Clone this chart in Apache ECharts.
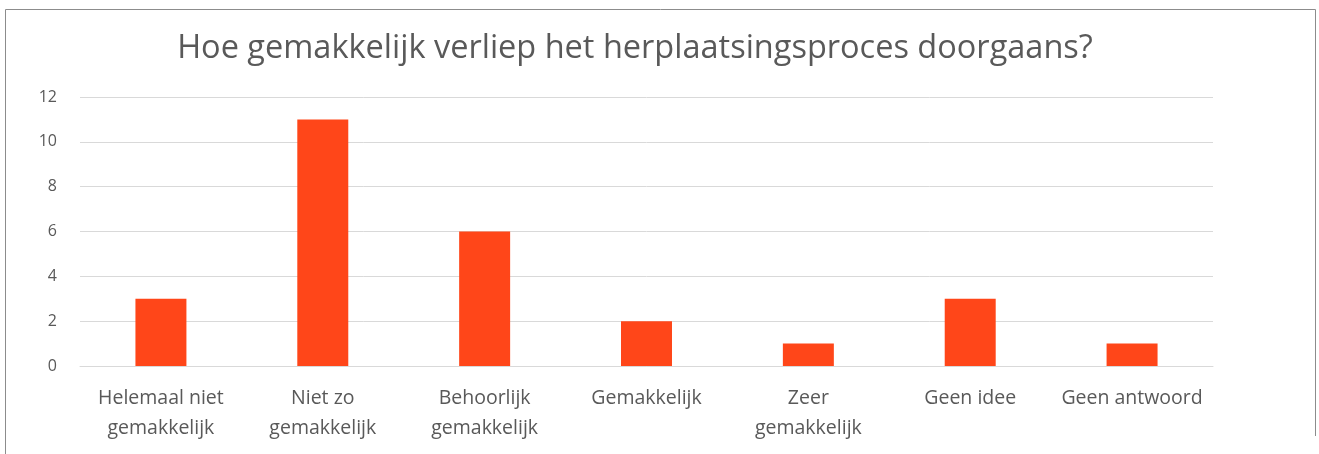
<!DOCTYPE html>
<html>
<head>
<meta charset="utf-8">
<script src="https://cdn.jsdelivr.net/npm/echarts@6/dist/echarts.min.js"></script>
<style>
html, body { margin: 0; padding: 0; background: #fff; }
#chart { width: 1319px; height: 454px; }
</style>
</head>
<body>
<div id="chart"></div>
<script>
var categories = ['Helemaal niet\ngemakkelijk', 'Niet zo\ngemakkelijk', 'Behoorlijk\ngemakkelijk', 'Gemakkelijk', 'Zeer\ngemakkelijk', 'Geen idee', 'Geen antwoord'];
var counts = [3, 11, 6, 2, 1, 3, 1];
var chartTitle = 'Hoe gemakkelijk verliep het herplaatsingsproces doorgaans?';

var myChart = echarts.init(document.getElementById('chart'));
var fontName = '"Open Sans", Lato, sans-serif';
var option = {
	animation: false,
	title: {
		text: chartTitle,
		left: 630,
		top: 44,
		textAlign: 'center',
		textVerticalAlign: 'middle',
		textStyle: {
			fontFamily: fontName,
			fontSize: 32.5,
			fontWeight: 'normal',
			color: '#595959'
		}
	},
	grid: {
		left: 80,
		right: 106,
		top: 97,
		bottom: 88
	},
	graphic: [
		// frame around the chart
		{ type: 'line', shape: { x1: 5.5, y1: 9.5, x2: 1315.5, y2: 9.5 }, style: { stroke: '#8c8c8c', lineWidth: 1 } },
		{ type: 'line', shape: { x1: 5.5, y1: 9.5, x2: 5.5, y2: 454 }, style: { stroke: '#8c8c8c', lineWidth: 1 } },
		{ type: 'line', shape: { x1: 1315.5, y1: 9.5, x2: 1315.5, y2: 436 }, style: { stroke: '#8c8c8c', lineWidth: 1 } }
	],
	xAxis: {
		type: 'category',
		data: categories,
		axisLine: { lineStyle: { color: '#d9d9d9', width: 1 } },
		axisTick: { show: false },
		axisLabel: {
			interval: 0,
			margin: 17,
			fontFamily: fontName,
			fontSize: 19.5,
			lineHeight: 30,
			color: '#595959'
		}
	},
	yAxis: {
		type: 'value',
		min: 0,
		max: 12,
		interval: 2,
		axisLine: { show: false },
		axisTick: { show: false },
		splitLine: { lineStyle: { color: '#d9d9d9', width: 1 } },
		axisLabel: {
			margin: 23,
			fontFamily: fontName,
			fontSize: 16,
			color: '#595959'
		}
	},
	series: [{
		type: 'bar',
		data: counts,
		barWidth: '31.5%',
		itemStyle: { color: '#ff4619' }
	}]
};
myChart.setOption(option);
</script>
</body>
</html>
